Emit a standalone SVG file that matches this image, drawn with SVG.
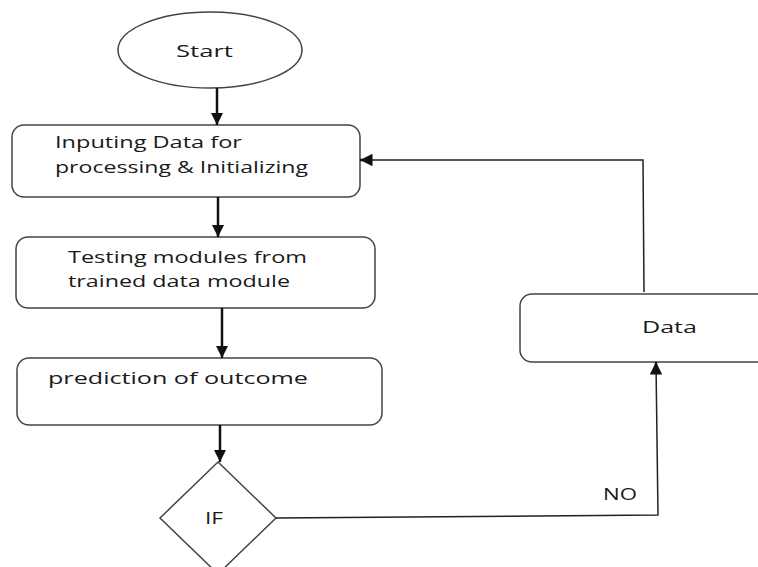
<svg xmlns="http://www.w3.org/2000/svg" width="758" height="567" viewBox="0 0 758 567">
<style>
.shape{fill:#fff;stroke:#444;stroke-width:1.5}
.line{fill:none;stroke:#222;stroke-width:1.5}
.arrow{fill:none;stroke:#111;stroke-width:2.5;marker-end:url(#ah)}
text{font-family:"Open Sans","Liberation Sans",sans-serif;font-size:17px;font-weight:500;fill:#1a1a1a}
</style>
<defs>
<marker id="ah" viewBox="0 0 10 10" refX="10" refY="5" markerWidth="5" markerHeight="5" orient="auto" markerUnits="strokeWidth">
<path d="M0,0 L10,5 L0,10 z" fill="#111"/>
</marker>
</defs>
<rect width="758" height="567" fill="#fff"/>
<g id="start">
<ellipse class="shape" cx="210" cy="50" rx="92" ry="38"/>
<text x="176" y="57" textLength="57" lengthAdjust="spacingAndGlyphs">Start</text>
</g>
<g id="input">
<rect class="shape" x="12" y="125" width="348" height="72" rx="12"/>
<text x="55" y="148" textLength="187" lengthAdjust="spacingAndGlyphs">Inputing Data for</text>
<text x="55" y="173" textLength="253" lengthAdjust="spacingAndGlyphs">processing &amp; Initializing</text>
</g>
<g id="testing">
<rect class="shape" x="16" y="237" width="359" height="71" rx="12"/>
<text x="68" y="263" textLength="239" lengthAdjust="spacingAndGlyphs">Testing modules from</text>
<text x="68" y="287" textLength="222" lengthAdjust="spacingAndGlyphs">trained data module</text>
</g>
<g id="prediction">
<rect class="shape" x="17" y="358" width="365" height="67" rx="12"/>
<text x="48" y="384" textLength="260" lengthAdjust="spacingAndGlyphs">prediction of outcome</text>
</g>
<g id="if">
<polygon class="shape" points="218,462 276,518 218,574 160,518"/>
<text x="205" y="524" textLength="18" lengthAdjust="spacingAndGlyphs">IF</text>
</g>
<g id="data">
<rect class="shape" x="520" y="294" width="250" height="68" rx="12"/>
<text x="642" y="333" textLength="55" lengthAdjust="spacingAndGlyphs">Data</text>
</g>
<g id="connectors">
<line class="arrow" x1="217" y1="88" x2="217" y2="125"/>
<line class="arrow" x1="218" y1="197" x2="218" y2="237"/>
<line class="arrow" x1="222" y1="308" x2="222" y2="358"/>
<line class="arrow" x1="220" y1="425" x2="220" y2="462"/>
<polyline class="line" points="276,518 658,515 656,364"/>
<line class="arrow" x1="656" y1="372" x2="656" y2="362"/>
<polyline class="line" points="644,292 643,160 370,160"/>
<line class="arrow" x1="370" y1="160" x2="360" y2="160"/>
<text x="603" y="500" textLength="34" lengthAdjust="spacingAndGlyphs">NO</text>
</g>
</svg>
